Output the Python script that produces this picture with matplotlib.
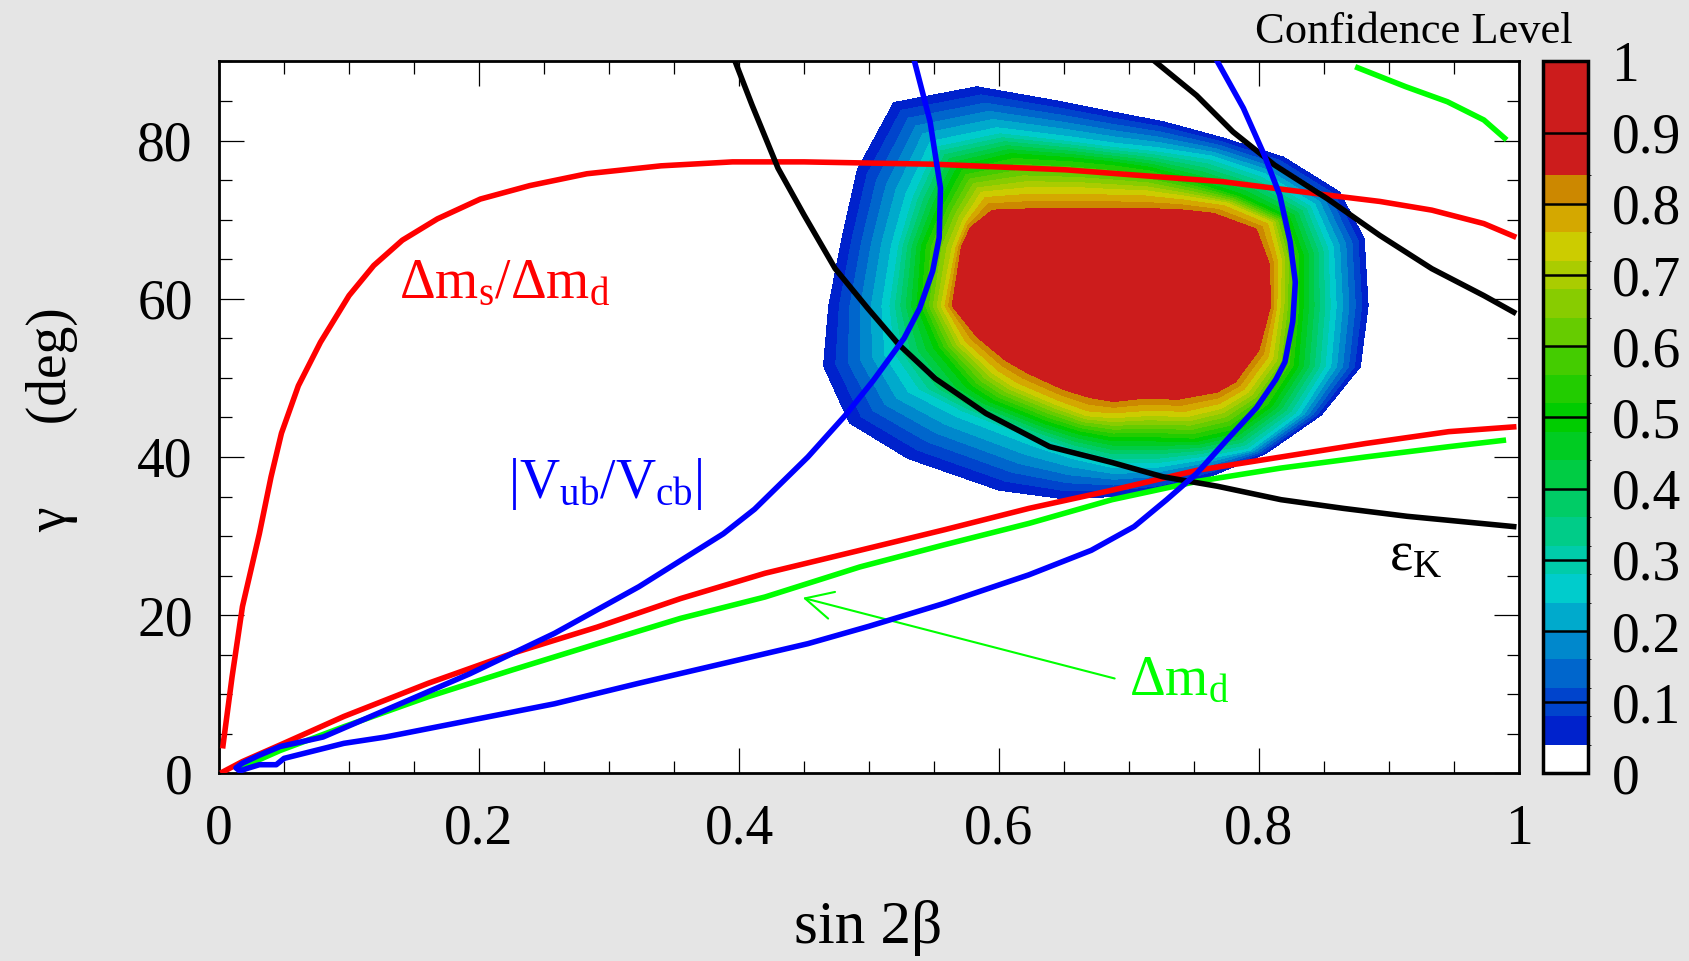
import numpy as np
import matplotlib.pyplot as plt
from matplotlib.colors import ListedColormap, BoundaryNorm
from matplotlib.cm import ScalarMappable

plt.rcParams['font.family'] = ['Liberation Serif', 'DejaVu Serif']
plt.rcParams['mathtext.default'] = 'regular'

# confidence level map, read off as nested rings (one ring per CL value),
# points taken every 15 degrees round the maximum
ring_cl = [0.04, 0.26, 0.50, 0.74, 0.84]
ring_x = [
    [0.884, 0.881, 0.862, 0.819, 0.773, 0.726, 0.688, 0.645, 0.583, 0.519, 0.491, 0.479,
     0.469, 0.465, 0.485, 0.530, 0.600, 0.650, 0.688, 0.724, 0.765, 0.805, 0.848, 0.878],
    [0.857, 0.855, 0.841, 0.803, 0.763, 0.720, 0.688, 0.652, 0.600, 0.550, 0.532, 0.521,
     0.514, 0.517, 0.535, 0.570, 0.628, 0.657, 0.688, 0.722, 0.758, 0.792, 0.830, 0.853],
    [0.832, 0.832, 0.822, 0.785, 0.751, 0.716, 0.688, 0.657, 0.610, 0.570, 0.556, 0.542,
     0.539, 0.553, 0.578, 0.595, 0.636, 0.662, 0.688, 0.718, 0.750, 0.780, 0.808, 0.828],
    [0.815, 0.816, 0.809, 0.775, 0.742, 0.713, 0.688, 0.664, 0.625, 0.588, 0.574, 0.566,
     0.557, 0.572, 0.598, 0.612, 0.645, 0.668, 0.688, 0.714, 0.745, 0.770, 0.790, 0.809],
    [0.809, 0.808, 0.798, 0.765, 0.737, 0.708, 0.688, 0.668, 0.630, 0.595, 0.578, 0.571,
     0.564, 0.583, 0.605, 0.622, 0.650, 0.670, 0.688, 0.710, 0.738, 0.768, 0.782, 0.800],
]
ring_y = [
    [59.1, 67.6, 73.5, 77.9, 80.3, 82.4, 83.6, 85.0, 86.8, 84.8, 76.3, 67.5,
     59.1, 51.5, 44.3, 39.8, 35.8, 34.7, 35.0, 35.8, 37.7, 40.4, 45.3, 51.4],
    [59.1, 66.4, 71.8, 75.6, 77.8, 78.8, 79.3, 80.1, 81.1, 79.4, 72.9, 66.6,
     59.1, 53.0, 48.6, 45.7, 42.0, 40.3, 39.0, 39.0, 39.9, 40.9, 45.5, 51.5],
    [59.1, 65.5, 70.2, 73.0, 74.8, 76.4, 77.1, 77.6, 78.1, 76.5, 72.0, 66.6,
     59.1, 53.8, 48.9, 47.1, 44.4, 43.1, 42.3, 42.3, 42.1, 43.2, 46.5, 51.5],
    [59.1, 64.8, 69.6, 72.0, 72.8, 73.4, 73.5, 73.7, 73.7, 73.2, 69.8, 66.5,
     59.1, 54.5, 50.6, 49.1, 46.8, 45.4, 45.2, 45.5, 45.4, 46.4, 48.3, 52.5],
    [59.1, 64.4, 68.8, 70.8, 71.3, 71.4, 71.4, 71.4, 71.4, 71.2, 69.0, 66.5,
     59.1, 55.2, 52.2, 50.6, 48.5, 47.5, 47.0, 47.4, 47.3, 48.2, 49.5, 53.5],
]
peak_x, peak_y, peak_cl = 0.688, 59.1, 1.0

# palette (ROOT style), one colour per CL band
cl_bounds = [0.04, 0.08, 0.12, 0.16, 0.20, 0.24, 0.28, 0.32, 0.36, 0.40, 0.44,
             0.48, 0.52, 0.56, 0.60, 0.64, 0.68, 0.72, 0.76, 0.80, 0.84, 1.0]
cl_colors = ['#0022CC', '#0044CC', '#0066CC', '#0088CC', '#00AACC', '#00CCCC',
             '#00CCAA', '#00CC88', '#00CC66', '#00CC44', '#00CC22', '#00CC00',
             '#22CC00', '#44CC00', '#66CC00', '#88CC00', '#AACC00', '#CCCC00',
             '#D4A800', '#CC8800', '#CC1C1C']

# constraint curves
dms_x = [0.003, 0.010, 0.018, 0.031, 0.040, 0.048, 0.061, 0.078, 0.100, 0.119, 0.141, 0.168,
         0.201, 0.239, 0.283, 0.340, 0.395, 0.450, 0.551, 0.651, 0.772, 0.853, 0.893, 0.933, 0.973, 0.996]
dms_y = [3.5, 12.2, 21.1, 30.3, 37.5, 43.0, 49.0, 54.5, 60.4, 64.2, 67.4, 70.1,
         72.6, 74.3, 75.8, 76.8, 77.3, 77.3, 77.0, 76.3, 74.8, 73.1, 72.3, 71.2, 69.5, 67.9]

dms_lo_x = [0.003, 0.018, 0.047, 0.096, 0.161, 0.226, 0.291, 0.355, 0.420, 0.493, 0.558,
            0.623, 0.687, 0.752, 0.817, 0.882, 0.946, 0.996]
dms_lo_y = [0.2, 1.5, 3.6, 7.2, 11.4, 15.2, 18.5, 22.1, 25.3, 28.2, 30.8,
            33.5, 35.8, 38.3, 40.0, 41.7, 43.2, 43.8]

dmd_x = [0.018, 0.047, 0.096, 0.161, 0.226, 0.291, 0.355, 0.420, 0.493, 0.558, 0.623,
         0.687, 0.752, 0.817, 0.882, 0.946, 0.988]
dmd_y = [0.8, 2.9, 5.9, 9.7, 13.1, 16.4, 19.6, 22.3, 26.1, 28.9, 31.6,
         34.6, 36.9, 38.6, 40.0, 41.3, 42.1]

dmd_top_x = [0.876, 0.913, 0.945, 0.973, 0.989]
dmd_top_y = [89.2, 86.8, 84.9, 82.6, 80.3]

epsk_x = [0.397, 0.410, 0.430, 0.450, 0.474, 0.499, 0.523, 0.551, 0.590, 0.639, 0.687,
          0.726, 0.768, 0.817, 0.865, 0.914, 0.996]
epsk_y = [90.0, 84.5, 76.5, 70.6, 63.8, 58.8, 54.2, 49.9, 45.5, 41.3, 39.3,
          37.5, 36.3, 34.6, 33.5, 32.5, 31.2]

epsk2_x = [0.720, 0.752, 0.780, 0.812, 0.853, 0.893, 0.933, 0.973, 0.996]
epsk2_y = [90.0, 85.7, 81.1, 76.9, 72.6, 68.0, 63.8, 60.4, 58.3]

vub_x = [0.535, 0.547, 0.555, 0.554, 0.549, 0.539, 0.527, 0.503, 0.482, 0.453, 0.412, 0.388, 0.323,
         0.258, 0.193, 0.128, 0.080, 0.047, 0.031, 0.018, 0.013, 0.016, 0.021, 0.031, 0.044,
         0.050, 0.096, 0.128, 0.193, 0.258, 0.323, 0.388, 0.453, 0.500, 0.558, 0.623, 0.671,
         0.704, 0.729, 0.752, 0.775, 0.798, 0.813, 0.820, 0.826, 0.828, 0.824, 0.816, 0.804,
         0.788, 0.768]
vub_y = [90.0, 82.4, 74.0, 67.7, 63.5, 58.8, 55.0, 49.6, 45.3, 40.0, 33.4, 30.3, 23.6,
         17.7, 12.6, 8.0, 4.6, 3.4, 2.3, 1.3, 0.7, 0.3, 0.6, 1.1, 1.1,
         1.9, 3.8, 4.6, 6.7, 8.8, 11.4, 13.9, 16.4, 18.6, 21.5, 25.1, 28.2,
         31.2, 34.6, 37.9, 42.1, 46.2, 49.8, 52.0, 57.1, 62.1, 67.2, 73.1, 78.2,
         84.1, 90.0]

x_ticks = [0, 0.2, 0.4, 0.6, 0.8, 1.0]
x_ticklabels = ['0', '0.2', '0.4', '0.6', '0.8', '1']
y_ticks = [0, 20, 40, 60, 80]
cb_ticks = [0, 0.1, 0.2, 0.3, 0.4, 0.5, 0.6, 0.7, 0.8, 0.9, 1.0]
cb_ticklabels = ['0', '0.1', '0.2', '0.3', '0.4', '0.5', '0.6', '0.7', '0.8', '0.9', '1']

fig = plt.figure(figsize=(16.89, 9.61), dpi=100, facecolor='#E5E5E5')
ax = fig.add_axes([0.1297, 0.1952, 0.7696, 0.7409])

# curvilinear grid from the rings, closed round
X = np.array(ring_x + [[peak_x] * len(ring_x[0])])
Y = np.array(ring_y + [[peak_y] * len(ring_y[0])])
X = np.hstack([X, X[:, :1]])
Y = np.hstack([Y, Y[:, :1]])
Z = np.repeat(np.array(ring_cl + [peak_cl])[:, None], X.shape[1], axis=1)
ax.contourf(X, Y, Z, levels=cl_bounds, colors=cl_colors, zorder=1)

lw = 4
ax.plot(dms_x, dms_y, color='#FF0000', lw=lw, zorder=3)
ax.plot(dms_lo_x, dms_lo_y, color='#FF0000', lw=lw, zorder=3)
ax.plot(dmd_x, dmd_y, color='#00FF00', lw=lw, zorder=3)
ax.plot(dmd_top_x, dmd_top_y, color='#00FF00', lw=lw, zorder=3)
ax.plot(epsk_x, epsk_y, color='black', lw=lw, zorder=3)
ax.plot(epsk2_x, epsk2_y, color='black', lw=lw, zorder=3)
ax.plot(vub_x, vub_y, color='#0000FF', lw=lw, zorder=4)

ax.text(0.1385, 60.1, 'Δm$_{s}$/Δm$_{d}$', color='#FF0000', fontsize=40, va='baseline')
ax.text(0.222, 34.8, '|V$_{ub}$/V$_{cb}$|', color='#0000FF', fontsize=40, va='baseline')
ax.text(0.900, 25.7, 'ε$_{K}$', color='black', fontsize=40, va='baseline')
ax.text(0.700, 9.9, 'Δm$_{d}$', color='#00FF00', fontsize=40, va='baseline')
ax.annotate('', xy=(0.449, 22.2), xytext=(0.689, 12.0),
            arrowprops=dict(arrowstyle='->,head_length=0.9,head_width=0.45',
                            color='#00FF00', lw=1.5, mutation_scale=22,
                            shrinkA=0, shrinkB=0))

ax.set_xlim(0, 1)
ax.set_ylim(0, 90)
ax.set_xticks(x_ticks)
ax.set_xticklabels(x_ticklabels)
ax.set_xticks(np.arange(0, 1.001, 0.05), minor=True)
ax.set_yticks(y_ticks)
ax.set_yticks(np.arange(0, 90.1, 5), minor=True)
ax.tick_params(which='both', direction='in', top=True, right=True, width=0.9, labelsize=40)
ax.tick_params(which='major', length=18)
ax.tick_params(which='minor', length=9)
ax.tick_params(axis='x', pad=22)
ax.tick_params(axis='y', pad=19)
for sp in ax.spines.values():
    sp.set_linewidth(2)

fig.text(0.514, 0.034, 'sin 2β', fontsize=44, ha='center', va='center')
fig.text(0.031, 0.563, 'γ      (deg)', fontsize=40, ha='center', va='center', rotation=90)
fig.text(0.931, 0.967, 'Confidence Level', fontsize=32, ha='right', va='center')

# colour scale
cax = fig.add_axes([0.9136, 0.1952, 0.0266, 0.7409])
bar_cmap = ListedColormap(['white'] + cl_colors)
bar_norm = BoundaryNorm([0.0] + cl_bounds, bar_cmap.N)
cb = fig.colorbar(ScalarMappable(norm=bar_norm, cmap=bar_cmap), cax=cax,
                  spacing='proportional', ticks=cb_ticks)
cb.ax.set_yticklabels(cb_ticklabels)
cb.ax.tick_params(length=0, labelsize=40, pad=17)
cb.outline.set_linewidth(2.5)
for v in cb_ticks[1:-1]:
    cax.axhline(v, color='black', lw=1.8)

fig.savefig('out.png', dpi=100, facecolor=fig.get_facecolor())
